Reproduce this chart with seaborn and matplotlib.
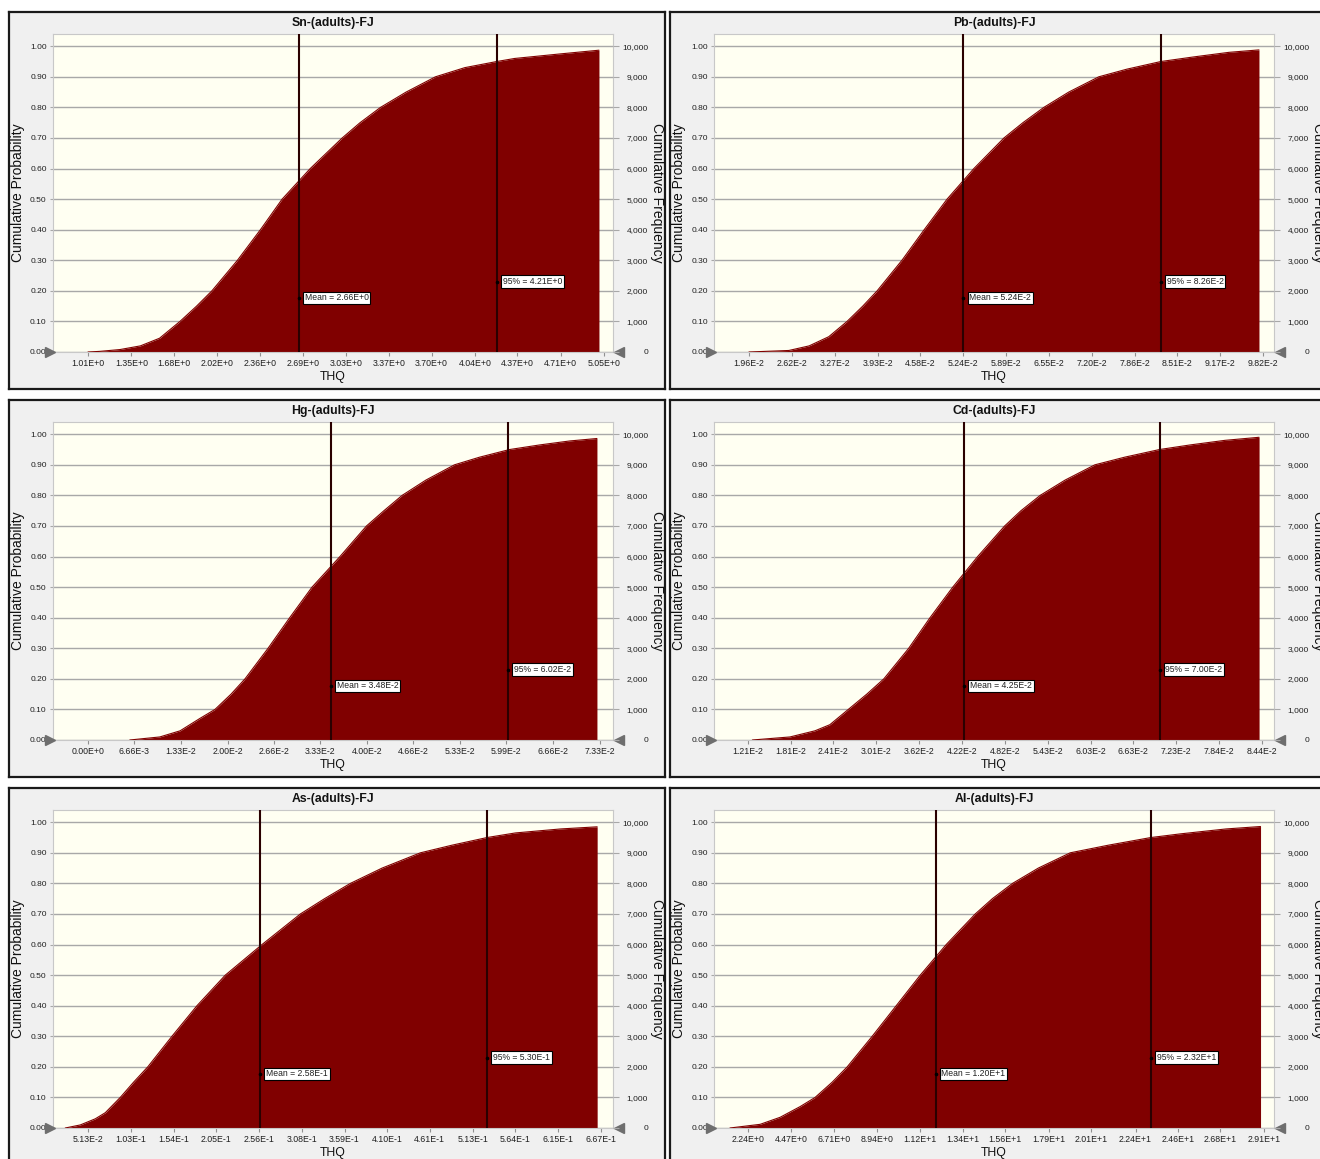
import matplotlib
matplotlib.use("Agg")
import matplotlib.pyplot as plt
import seaborn as sns
import numpy as np

# Crystal Ball style cumulative charts of THQ for six metals (adults, FJ)

W, H = 1320, 1159

titles = ["Sn-(adults)-FJ", "Pb-(adults)-FJ", "Hg-(adults)-FJ",
          "Cd-(adults)-FJ", "As-(adults)-FJ", "Al-(adults)-FJ"]

# cumulative probability
sn_thq = [1.01, 1.10, 1.26, 1.42, 1.57, 1.73, 1.86, 1.98, 2.18, 2.36, 2.53, 2.75, 3.00, 3.14,
          3.30, 3.50, 3.73, 3.96, 4.21, 4.35, 4.71, 5.01]
sn_prob = [0.0, 0.002, 0.008, 0.02, 0.045, 0.10, 0.15, 0.20, 0.30, 0.40, 0.50, 0.60, 0.70, 0.75,
           0.80, 0.85, 0.90, 0.93, 0.95, 0.96, 0.975, 0.987]

pb_thq = [0.0196, 0.0257, 0.0288, 0.0318, 0.0346, 0.0370, 0.0392, 0.0430, 0.0464, 0.0499, 0.0540,
          0.0586, 0.0615, 0.0647, 0.0685, 0.0731, 0.0774, 0.0826, 0.0876, 0.0930, 0.0976]
pb_prob = [0.0, 0.005, 0.02, 0.05, 0.10, 0.15, 0.20, 0.30, 0.40, 0.50, 0.60,
           0.70, 0.75, 0.80, 0.85, 0.90, 0.925, 0.95, 0.965, 0.98, 0.988]

hg_thq = [0.0060, 0.0103, 0.0132, 0.0160, 0.0182, 0.0205, 0.0225, 0.0258, 0.0289, 0.0321, 0.0361,
          0.0399, 0.0424, 0.0450, 0.0484, 0.0525, 0.0561, 0.0604, 0.0647, 0.0690, 0.0729]
hg_prob = [0.0, 0.01, 0.03, 0.07, 0.10, 0.15, 0.20, 0.30, 0.40, 0.50, 0.60,
           0.70, 0.75, 0.80, 0.85, 0.90, 0.925, 0.95, 0.965, 0.978, 0.986]

cd_thq = [0.0127, 0.0180, 0.0215, 0.0236, 0.0262, 0.0288, 0.0312, 0.0347, 0.0377, 0.0409, 0.0444,
          0.0482, 0.0505, 0.0532, 0.0567, 0.0609, 0.0651, 0.0700, 0.0743, 0.0792, 0.0840]
cd_prob = [0.0, 0.01, 0.03, 0.05, 0.10, 0.15, 0.20, 0.30, 0.40, 0.50, 0.60,
           0.70, 0.75, 0.80, 0.85, 0.90, 0.925, 0.95, 0.965, 0.98, 0.99]

as_thq = [0.024, 0.042, 0.060, 0.072, 0.090, 0.106, 0.123, 0.152, 0.182, 0.216, 0.260,
          0.306, 0.335, 0.366, 0.404, 0.450, 0.488, 0.530, 0.564, 0.618, 0.662]
as_prob = [0.0, 0.01, 0.03, 0.05, 0.10, 0.15, 0.20, 0.30, 0.40, 0.50, 0.60,
           0.70, 0.75, 0.80, 0.85, 0.90, 0.925, 0.95, 0.965, 0.978, 0.985]

al_thq = [1.30, 2.87, 3.91, 4.95, 5.73, 6.62, 7.40, 8.70, 9.95, 11.2, 12.55,
          14.06, 14.95, 16.0, 17.34, 19.0, 20.99, 23.2, 24.74, 27.1, 28.9]
al_prob = [0.0, 0.012, 0.035, 0.07, 0.10, 0.15, 0.20, 0.30, 0.40, 0.50, 0.60,
           0.70, 0.75, 0.80, 0.85, 0.90, 0.925, 0.95, 0.962, 0.978, 0.986]

sn_ticks = ["1.01E+0", "1.35E+0", "1.68E+0", "2.02E+0", "2.36E+0", "2.69E+0", "3.03E+0",
            "3.37E+0", "3.70E+0", "4.04E+0", "4.37E+0", "4.71E+0", "5.05E+0"]
pb_ticks = ["1.96E-2", "2.62E-2", "3.27E-2", "3.93E-2", "4.58E-2", "5.24E-2", "5.89E-2",
            "6.55E-2", "7.20E-2", "7.86E-2", "8.51E-2", "9.17E-2", "9.82E-2"]
hg_ticks = ["0.00E+0", "6.66E-3", "1.33E-2", "2.00E-2", "2.66E-2", "3.33E-2", "4.00E-2",
            "4.66E-2", "5.33E-2", "5.99E-2", "6.66E-2", "7.33E-2"]
cd_ticks = ["1.21E-2", "1.81E-2", "2.41E-2", "3.01E-2", "3.62E-2", "4.22E-2", "4.82E-2",
            "5.43E-2", "6.03E-2", "6.63E-2", "7.23E-2", "7.84E-2", "8.44E-2"]
as_ticks = ["5.13E-2", "1.03E-1", "1.54E-1", "2.05E-1", "2.56E-1", "3.08E-1", "3.59E-1",
            "4.10E-1", "4.61E-1", "5.13E-1", "5.64E-1", "6.15E-1", "6.67E-1"]
al_ticks = ["2.24E+0", "4.47E+0", "6.71E+0", "8.94E+0", "1.12E+1", "1.34E+1", "1.56E+1",
            "1.79E+1", "2.01E+1", "2.24E+1", "2.46E+1", "2.68E+1", "2.91E+1"]

# displayed x range of each chart
x_ranges = [(0.736, 5.12), (0.01425, 0.0999), (-0.0050, 0.0752),
            (0.0073, 0.0861), (0.0093, 0.681), (0.47, 29.6)]

means = [2.66, 5.24e-2, 3.48e-2, 4.25e-2, 2.58e-1, 1.20e+1]
mean_labels = ["Mean = 2.66E+0", "Mean = 5.24E-2", "Mean = 3.48E-2",
               "Mean = 4.25E-2", "Mean = 2.58E-1", "Mean = 1.20E+1"]
p95 = [4.21, 8.26e-2, 6.02e-2, 7.00e-2, 5.30e-1, 2.32e+1]
p95_labels = ["95% = 4.21E+0", "95% = 8.26E-2", "95% = 6.02E-2",
              "95% = 7.00E-2", "95% = 5.30E-1", "95% = 2.32E+1"]

prob_ticks = [0.0, 0.1, 0.2, 0.3, 0.4, 0.5, 0.6, 0.7, 0.8, 0.9, 1.0]
trials = 10000

curves = [(sn_thq, sn_prob), (pb_thq, pb_prob), (hg_thq, hg_prob),
          (cd_thq, cd_prob), (as_thq, as_prob), (al_thq, al_prob)]
tick_sets = [sn_ticks, pb_ticks, hg_ticks, cd_ticks, as_ticks, al_ticks]

sns.set_style("white")
plt.rcParams['font.family'] = ['Liberation Sans', 'DejaVu Sans']

FILL = '#800000'
LINE = '#2a0000'
GRID = '#a8a8a8'

fig = plt.figure(figsize=(W / 100, H / 100), dpi=100)
fig.patch.set_facecolor('white')

plot_left = [53, 714]
plot_top = [34, 422, 810]
PW, PH = 560, 318


def px_rect(x, y, w, h):
    return [x / W, 1 - (y + h) / H, w / W, h / H]


for i in range(6):
    col, row = i % 2, i // 2
    lx, ty = plot_left[col], plot_top[row]

    # grey panel frame
    frame = fig.add_axes(px_rect(lx - 44, ty - 22, 656, 377))
    frame.set_facecolor('#f0f0f0')
    frame.set_xticks([]); frame.set_yticks([])
    for s in frame.spines.values():
        s.set_color('#1a1a1a'); s.set_linewidth(1.6); s.set_visible(True)
    frame.set_zorder(0)

    ax = fig.add_axes(px_rect(lx, ty, PW, PH))
    ax.set_zorder(1)
    ax.set_facecolor('#fffff2')
    thq, prob = curves[i]
    ax.fill_between(thq, prob, 0, color=FILL, lw=0, zorder=2)
    sns.lineplot(x=thq, y=prob, ax=ax, color=FILL, lw=0.8, zorder=3, sort=False)

    ax.set_xlim(*x_ranges[i])
    ax.set_ylim(0, 1.04)
    ax.set_yticks(prob_ticks)
    ax.set_yticklabels([f"{v:.2f}" for v in prob_ticks])
    ax.yaxis.grid(True, color=GRID, lw=1)
    ax.xaxis.grid(False)
    ax.set_axisbelow(True)

    labels = tick_sets[i]
    ax.set_xticks([float(t) for t in labels])
    ax.set_xticklabels(labels)
    ax.tick_params(axis='x', bottom=True, length=3, width=0.8, color='#909090',
                   pad=2, labelsize=6.3, labelcolor='#202020')
    ax.tick_params(axis='y', left=True, length=2.5, width=0.8, color=GRID,
                   pad=2, labelsize=6, labelcolor='#202020')
    for s in ax.spines.values():
        s.set_color('#c8c8c8'); s.set_linewidth(0.8)

    for xv, txt, yv in [(means[i], mean_labels[i], 0.177), (p95[i], p95_labels[i], 0.23)]:
        ax.axvline(xv, color=LINE, lw=1.5, zorder=4)
        ax.plot([xv], [yv], marker='o', ms=1.6, color='black', zorder=6)
        ax.annotate(txt, xy=(xv, yv), xytext=(4.2, 0), textcoords='offset points',
                    ha='left', va='center', fontsize=6.2, color='#202020', zorder=7,
                    bbox=dict(boxstyle='square,pad=0.2', fc='white', ec='black', lw=0.8))

    # certainty grabbers
    yx = ax.get_yaxis_transform()
    ax.plot([-0.005], [0], marker='>', ms=7, color='#6e6e6e', transform=yx, clip_on=False, zorder=8)
    ax.plot([1.011], [0], marker='<', ms=7, color='#6e6e6e', transform=yx, clip_on=False, zorder=8)

    ax.set_title(titles[i], fontsize=8.8, fontweight='bold', pad=6, color='#111111')
    ax.set_xlabel("THQ", fontsize=8.8, labelpad=2, color='#111111')
    ax.set_ylabel("Cumulative Probability", fontsize=10, color='#111111', va='center')
    ax.yaxis.set_label_coords(-35 / PW, 0.5)

    ax2 = ax.twinx()
    ax2.set_zorder(2)
    ax2.set_ylim(0, 1.04 * trials)
    freq_ticks = [p * trials for p in prob_ticks]
    ax2.set_yticks(freq_ticks)
    ax2.set_yticklabels([f"{v:,.0f}" for v in freq_ticks], ha='right')
    ax2.tick_params(axis='y', right=True, length=4.3, width=0.8, color=GRID,
                    pad=21, labelsize=6, labelcolor='#202020')
    for s in ax2.spines.values():
        s.set_visible(False)
    ax2.set_ylabel("Cumulative Frequency", fontsize=10, rotation=270,
                   color='#111111', va='center')
    ax2.yaxis.set_label_coords(604 / PW, 0.5)
    ax2.grid(False)

fig.savefig("out.png", dpi=100, facecolor='white')
